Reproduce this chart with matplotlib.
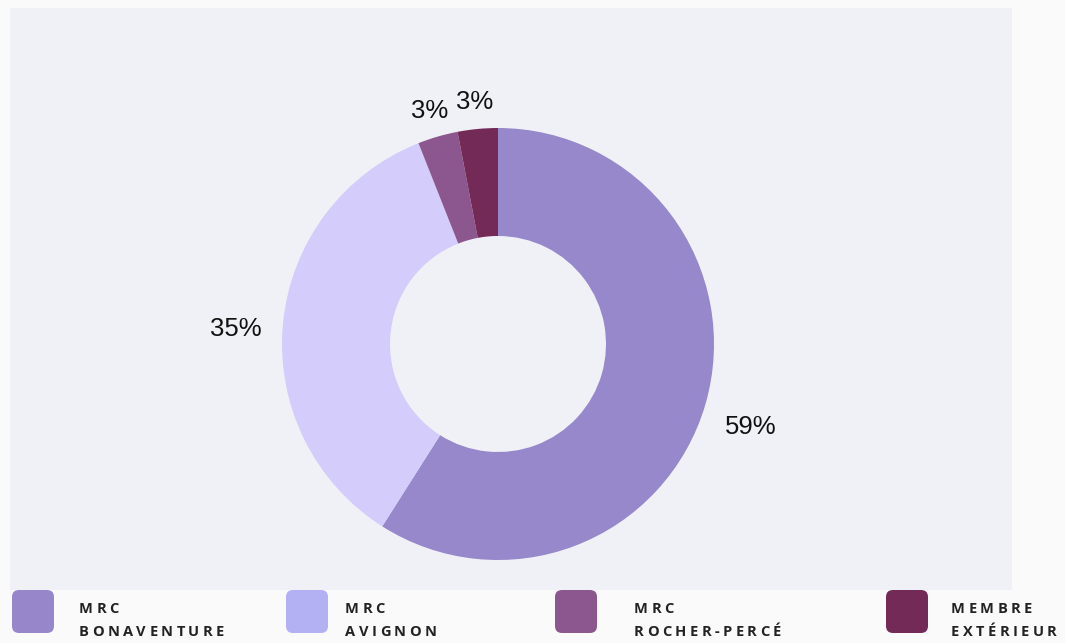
import matplotlib.pyplot as plt
import numpy as np
from matplotlib.patches import FancyBboxPatch

# data
labels = ["MRC\nBONAVENTURE", "MRC\nAVIGNON", "MRC\nROCHER-PERCÉ", "MEMBRE\nEXTÉRIEUR"]
shares = [59, 35, 3, 3]
slice_colors = ["#9787cb", "#d4ccfa", "#8c568e", "#742a57"]
legend_colors = ["#9787ca", "#b3b0f4", "#8c578e", "#742a56"]

W, H = 1065, 643
fig = plt.figure(figsize=(W / 100, H / 100), dpi=100)
fig.patch.set_facecolor("#fafafa")

# plot area in pixels: x 10..1012, y 8..590
px0, px1, py0, py1 = 10, 1012, 8, 590
ax = fig.add_axes([px0 / W, 1 - py1 / H, (px1 - px0) / W, (py1 - py0) / H])

R = 216.0
cx, cy = 498, 344
wedges, _ = ax.pie(
    shares,
    colors=slice_colors,
    startangle=90,
    counterclock=False,
    radius=1.0,
    wedgeprops=dict(width=0.5, edgecolor="none"),
)
ax.set_frame_on(True)
ax.set_facecolor("#f0f1f6")
for s in ax.spines.values():
    s.set_visible(False)
ax.set_xticks([])
ax.set_yticks([])
ax.set_aspect("auto")
ax.set_xlim(-(cx - px0) / R, (px1 - cx) / R)
ax.set_ylim(-(py1 - cy) / R, (cy - py0) / R)

# percentage labels outside the ring
total = sum(shares)
cum = 0
for v in shares:
    mid = (cum + v / 2) / total * 360
    cum += v
    d = 1.22 if v > 10 else 1.13
    dy = -0.045 if v > 10 else -0.005
    theta = np.deg2rad(90 - mid)
    ax.text(d * np.cos(theta), d * np.sin(theta) + dy, f"{v}%",
            ha="center", va="center", fontsize=18.5,
            family="Liberation Sans", color="#111111")

# legend in pixel coordinates
lax = fig.add_axes([0, 0, 1, 1])
lax.set_xlim(0, W)
lax.set_ylim(H, 0)
lax.axis("off")
renderer = fig.canvas.get_renderer()


def spaced_text(x, y, s, spacing=3.4):
    # letter-spaced bold label, one glyph at a time
    for ch in s:
        t = lax.text(x, y, ch, ha="left", va="center", fontsize=10.5,
                     family="Open Sans", weight="bold", color="#222222")
        w = t.get_window_extent(renderer).width
        x += w + spacing


box_x = [12, 286, 555, 886]
text_x = [79, 345, 634, 951]
for bx, tx, lab, c in zip(box_x, text_x, labels, legend_colors):
    lax.add_patch(FancyBboxPatch((bx + 6, 596), 30, 31,
                                 boxstyle="round,pad=6,rounding_size=7",
                                 fc=c, ec="none"))
    l1, l2 = lab.split("\n")
    spaced_text(tx, 609, l1)
    spaced_text(tx, 632, l2)

fig.savefig("out.png", dpi=100, facecolor=fig.get_facecolor())
